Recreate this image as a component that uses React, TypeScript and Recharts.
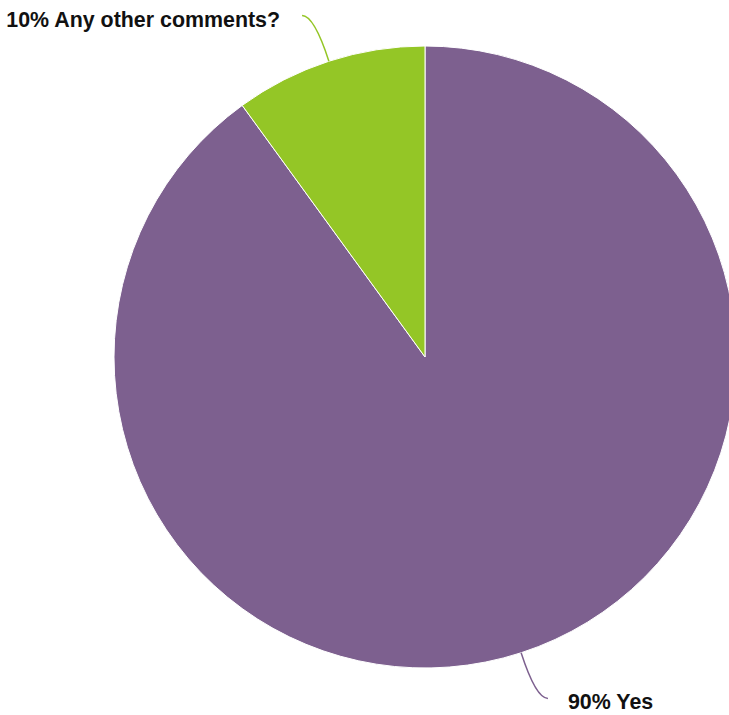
import { PieChart, Pie, Cell } from "recharts"

const labels = ["Yes", "Any other comments?"]
const values = [90, 10]
const colors = ["#7D608F", "#94C626"]

const data = labels.map((name, i) => ({ name, value: values[i] }))

const RADIAN = Math.PI / 180

function polar(cx: number, cy: number, r: number, angle: number) {
  return {
    x: cx + Math.cos(-angle * RADIAN) * r,
    y: cy + Math.sin(-angle * RADIAN) * r,
  }
}

function renderLabel(props: any) {
  const { cx, cy, midAngle, outerRadius, percent, name, index } = props
  const edge = polar(cx, cy, outerRadius, midAngle)
  const ctrl = polar(cx, cy, outerRadius + 48, midAngle)
  const left = Math.cos(-midAngle * RADIAN) < 0
  const end = { x: ctrl.x + (left ? -12 : 12), y: ctrl.y }
  return (
    <g key={`label-${index}`}>
      <path
        d={`M${edge.x},${edge.y} Q${ctrl.x},${ctrl.y} ${end.x},${end.y}`}
        stroke={colors[index]}
        strokeWidth={1.5}
        fill="none"
      />
      <text
        x={end.x + (left ? -22 : 20)}
        y={end.y + 4}
        textAnchor={left ? "end" : "start"}
        dominantBaseline="central"
        fill="#111"
        fontSize={21.4}
        fontWeight="bold"
        fontFamily="'Liberation Sans', Arial, sans-serif"
      >
        {`${Math.round(percent * 100)}% ${name}`}
      </text>
    </g>
  )
}

export default function App() {
  return (
    <div style={{ position: "absolute", left: 0, top: 0, width: 729, height: 715, overflow: "hidden", background: "#fff" }}>
      <PieChart width={729} height={715} margin={{ top: 0, right: 0, bottom: 0, left: 0 }}>
        <Pie
          data={data}
          dataKey="value"
          nameKey="name"
          cx={425}
          cy={357}
          outerRadius={311}
          startAngle={90}
          endAngle={-270}
          stroke="#ffffff"
          strokeWidth={1}
          label={renderLabel}
          labelLine={false}
          isAnimationActive={false}
        >
          {data.map((d, i) => (
            <Cell key={d.name} fill={colors[i]} />
          ))}
        </Pie>
      </PieChart>
    </div>
  )
}
